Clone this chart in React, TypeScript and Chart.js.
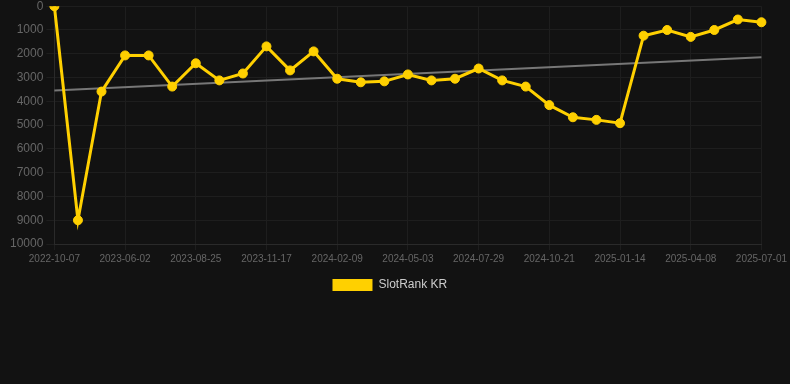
import React, { useEffect, useRef } from "react";
import { Chart, registerables } from "chart.js";

Chart.register(...registerables);

const labels = [
  "2022-10-07", "2023-03-03", "2023-05-05", "2023-06-02", "2023-06-30", "2023-07-28",
  "2023-08-25", "2023-09-22", "2023-10-20", "2023-11-17", "2023-12-15", "2024-01-12",
  "2024-02-09", "2024-03-08", "2024-04-05", "2024-05-03", "2024-06-01", "2024-07-01",
  "2024-07-29", "2024-08-26", "2024-09-23", "2024-10-21", "2024-11-18", "2024-12-17",
  "2025-01-14", "2025-02-11", "2025-03-11", "2025-04-08", "2025-05-06", "2025-06-03",
  "2025-07-01",
];

const slotRankKR = [
  1, 9000, 3590, 2070, 2070, 3380, 2400, 3120, 2830, 1690, 2700, 1900,
  3050, 3200, 3160, 2870, 3120, 3050, 2620, 3120, 3380, 4160, 4670, 4780,
  4920, 1240, 1000, 1290, 1000, 560, 675,
];

const trendStart = 3540;
const trendEnd = 2150;

export default function App() {
  const ref = useRef<HTMLCanvasElement | null>(null);

  useEffect(() => {
    document.body.style.margin = "0";
    document.body.style.background = "#121212";
    const canvas = ref.current;
    if (!canvas) return;
    const trend = labels.map((_, i) =>
      i === 0 ? trendStart : i === labels.length - 1 ? trendEnd : null
    );
    const chart = new Chart(canvas, {
      type: "line",
      data: {
        labels,
        datasets: [
          {
            label: "SlotRank KR",
            data: slotRankKR,
            borderColor: "#FFD000",
            backgroundColor: "#FFD000",
            borderWidth: 3,
            pointRadius: 4.5,
            pointBorderWidth: 1,
            pointHoverRadius: 4.5,
            pointBackgroundColor: "#FFD000",
            pointBorderColor: "#FFD000",
            tension: 0,
          },
          {
            label: "trend",
            data: trend,
            borderColor: "#777777",
            backgroundColor: "#777777",
            borderWidth: 2,
            pointRadius: 0,
            spanGaps: true,
          },
        ],
      },
      options: {
        animation: false,
        responsive: false,
        maintainAspectRatio: false,
        layout: { padding: { top: 2, right: 4, left: 7, bottom: 0 } },
        plugins: {
          legend: {
            position: "bottom",
            labels: {
              color: "#cccccc",
              padding: 11,
              font: { size: 12, family: "Liberation Sans, Arial, sans-serif" },
              boxWidth: 40,
              boxHeight: 12,
              generateLabels: (ch) =>
                Chart.defaults.plugins.legend.labels
                  .generateLabels(ch)
                  .filter((it) => it.text !== "trend")
                  .map((it) => ({ ...it, lineWidth: 0, text: it.text + "    " })),
            },
          },
          tooltip: { enabled: false },
        },
        scales: {
          x: {
            grid: { color: "#1e1e1e", tickLength: 6 },
            border: { color: "#2a2a2a" },
            ticks: {
              color: "#666666",
              font: { size: 10, family: "Liberation Sans, Arial, sans-serif" },
              maxRotation: 0,
              autoSkip: true,
            },
          },
          y: {
            reverse: true,
            min: 0,
            max: 10000,
            grid: { color: "#1e1e1e" },
            border: { color: "#2a2a2a" },
            ticks: {
              stepSize: 1000,
              color: "#666666",
              font: { size: 12, family: "Liberation Sans, Arial, sans-serif" },
              callback: (v) => String(v),
            },
          },
        },
      },
    });
    return () => chart.destroy();
  }, []);

  return (
    <div style={{ width: 790, height: 384, background: "#121212", overflow: "hidden" }}>
      <canvas
        ref={ref}
        width={790}
        height={305}
        style={{ display: "block", marginTop: -4 }}
      />
    </div>
  );
}
